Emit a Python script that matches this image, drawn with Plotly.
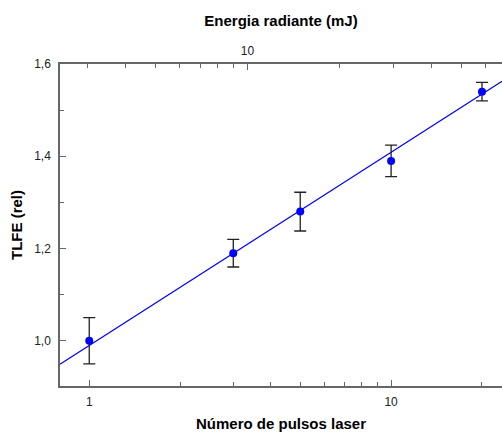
import numpy as np
import plotly.graph_objects as go

pulses = [1, 3, 5, 10, 20]
tlfe = [1.00, 1.19, 1.28, 1.39, 1.54]
err = [0.05, 0.03, 0.042, 0.034, 0.02]

x_major = [1, 10]
x_minor = [2, 3, 4, 5, 6, 7, 8, 9, 20]
top_major = [10]
top_minor = [3, 4, 5, 6, 7, 8, 9, 20, 30, 40, 50, 60]
y_major = [1.0, 1.2, 1.4, 1.6]
y_minor = [1.1, 1.3, 1.5]

x_range = [0.80, 23.3]
top_range = [2.44, 67.9]
y_range = [0.902, 1.6]

# weighted linear fit of TLFE vs log10(pulses)
lx = np.log10(pulses)
b, a = np.polyfit(lx, tlfe, 1, w=1 / np.array(err))
fit_x = np.logspace(np.log10(x_range[0]), np.log10(x_range[1]), 50)
fit_y = a + b * np.log10(fit_x)

fig = go.Figure()
fig.add_trace(go.Scatter(x=fit_x, y=fit_y, mode="lines",
                         line=dict(color="#0000ff", width=1.1),
                         hoverinfo="skip", showlegend=False))
fig.add_trace(go.Scatter(x=pulses, y=tlfe, mode="markers",
                         marker=dict(color="#0000ff", size=8),
                         error_y=dict(type="data", array=err, color="#222222",
                                      thickness=1.3, width=6),
                         showlegend=False))
fig.add_trace(go.Scatter(x=top_range, y=[None, None], xaxis="x2", yaxis="y",
                         mode="markers", showlegend=False, hoverinfo="skip"))

FONT = "Liberation Sans, Arial, sans-serif"
axis_font = dict(family=FONT, size=12, color="#222222")
title_font = dict(family=FONT, size=15, color="#000000")

common = dict(ticks="inside", ticklen=6, tickwidth=1, tickcolor="#666666",
              showline=True, linecolor="#666666", linewidth=1.5,
              showgrid=False, zeroline=False, tickfont=axis_font,
              automargin=False)

fig.update_layout(
    width=502, height=432,
    margin=dict(l=60, r=0, t=64, b=46),
    paper_bgcolor="white", plot_bgcolor="white",
    separators=",.",
    xaxis=dict(type="log", range=[np.log10(x_range[0]), np.log10(x_range[1])],
               tickvals=x_major, ticktext=[str(v) for v in x_major],
               ticklabelstandoff=4,
               minor=dict(tickvals=x_minor, ticks="inside", ticklen=4,
                          tickcolor="#666666", showgrid=False),
               title=dict(text="<b>Número de pulsos laser</b>", font=title_font, standoff=15),
               **common),
    xaxis2=dict(type="log", overlaying="x", side="top",
                range=[np.log10(top_range[0]), np.log10(top_range[1])],
                tickvals=top_major, ticktext=[str(v) for v in top_major],
                ticklabelstandoff=2,
                minor=dict(tickvals=top_minor, ticks="inside", ticklen=4,
                           tickcolor="#666666", showgrid=False),
                title=dict(text="<b>Energia radiante (mJ)</b>", font=title_font, standoff=14),
                **common),
    yaxis=dict(range=y_range, tickvals=y_major, tickformat=".1f",
               ticklabelstandoff=5,
               minor=dict(tickvals=y_minor, ticks="inside", ticklen=4,
                          tickcolor="#666666", showgrid=False),
               title=dict(text="<b>TLFE (rel)</b>", font=title_font, standoff=8),
               **common),
)

fig.write_html("out.html", config={"displayModeBar": False},
               post_script="document.body.style.margin='0';")
